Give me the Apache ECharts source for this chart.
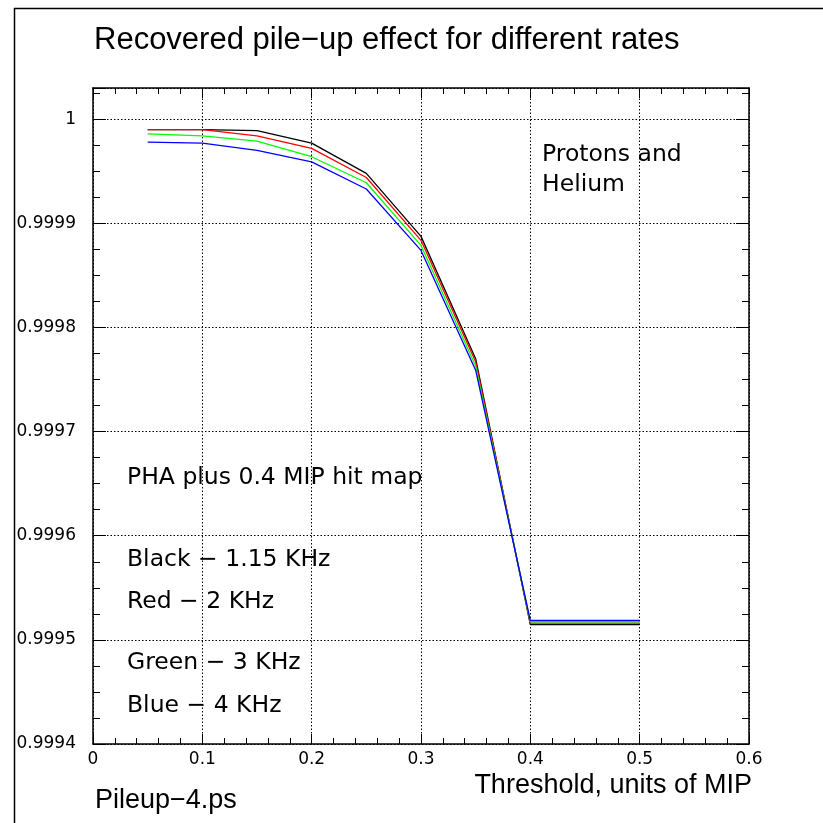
<!DOCTYPE html>
<html><head><meta charset="utf-8">
<script src="https://cdn.jsdelivr.net/npm/echarts@6/dist/echarts.min.js"></script>
<style>html,body{margin:0;padding:0;background:#fff}#c{width:823px;height:823px}</style>
</head><body><div id="c"></div>
<script>
const thresholds = [0.05, 0.1, 0.15, 0.2, 0.25, 0.3, 0.35, 0.4, 0.45, 0.5];
const black = [0.999990, 0.999990, 0.999989, 0.999977, 0.999948, 0.9998875, 0.999770, 0.9995147, 0.9995147, 0.9995147];
const red   = [0.999990, 0.999990, 0.999984, 0.999972, 0.999944, 0.9998837, 0.999767, 0.9995160, 0.9995160, 0.9995160];
const green = [0.999986, 0.999984, 0.999979, 0.999964, 0.999939, 0.9998788, 0.999763, 0.9995173, 0.9995173, 0.9995173];
const blue  = [0.999978, 0.999977, 0.999970, 0.999959, 0.999933, 0.9998740, 0.999759, 0.9995186, 0.9995186, 0.9995186];
const seriesNames = ['Black', 'Red', 'Green', 'Blue'];
const seriesColors = ['#000000', '#ff0000', '#00ff00', '#0000ff'];
const yTickLabels = ['0.9994', '0.9995', '0.9996', '0.9997', '0.9998', '0.9999', '1'];
const xTickLabels = ['0', '0.1', '0.2', '0.3', '0.4', '0.5', '0.6'];
const titleText = 'Recovered pile\u2212up effect for different rates';
const xTitle = 'Threshold, units of MIP';
const fileLabel = 'Pileup\u22124.ps';
const notes = ['Protons and', 'Helium', 'PHA plus 0.4 MIP hit map', 'Black \u2212 1.15 KHz', 'Red \u2212 2 KHz', 'Green \u2212 3 KHz', 'Blue \u2212 4 KHz'];

const allData = [black, red, green, blue];
const chart = echarts.init(document.getElementById('c'), null, {renderer: 'canvas'});
const YMIN = 0.9994, YMAX = 1.00003;
const geo = 'DejaVu Sans';
const helv = 'Liberation Sans';

function yLabel(v) {
  const k = Math.round((v - YMIN) / 0.0001);
  if (Math.abs(v - (YMIN + k * 0.0001)) > 1e-9 || k < 0 || k >= yTickLabels.length) return '';
  return yTickLabels[k];
}
function xLabel(v) {
  const k = Math.round(v / 0.1);
  if (Math.abs(v - k * 0.1) > 1e-9) return '';
  return xTickLabels[k] || '';
}
const lineStyleAxis = {color: '#000', width: 1.5};
const splitDotted = {show: true, lineStyle: {color: '#000', width: 1, type: [1.5, 2]}};

function txt(x, y, s, size, fam, align) {
  return {type: 'text', x: x, y: y, style: {text: s, font: size + 'px "' + fam + '"', fill: '#000', textAlign: align || 'left', textVerticalAlign: 'middle'}};
}

chart.setOption({
  animation: false,
  backgroundColor: '#fff',
  grid: {left: 93, top: 88, right: 74, bottom: 79, show: false},
  xAxis: [
    {type: 'value', min: 0, max: 0.6, interval: 0.1, position: 'bottom',
     axisLine: {show: true, onZero: false, lineStyle: lineStyleAxis},
     axisTick: {show: true, inside: true, length: 10, lineStyle: {color: '#000', width: 1}},
     minorTick: {show: true, splitNumber: 5, length: 6, lineStyle: {color: '#000', width: 1}},
     axisLabel: {show: true, margin: 7, formatter: xLabel, fontFamily: geo, fontSize: 17, color: '#000'},
     splitLine: splitDotted},
    {type: 'value', min: 0, max: 0.6, interval: 0.1, position: 'top',
     axisLine: {show: true, onZero: false, lineStyle: lineStyleAxis},
     axisTick: {show: true, inside: true, length: 10, lineStyle: {color: '#000', width: 1}},
     minorTick: {show: true, splitNumber: 5, length: 6, lineStyle: {color: '#000', width: 1}},
     axisLabel: {show: false}, splitLine: {show: false}}
  ],
  yAxis: [
    {type: 'value', min: YMIN, max: YMAX, interval: 0.0001, position: 'left',
     axisLine: {show: true, onZero: false, lineStyle: lineStyleAxis},
     axisTick: {show: true, inside: true, length: 13, lineStyle: {color: '#000', width: 1}},
     minorTick: {show: true, splitNumber: 4, length: 7, lineStyle: {color: '#000', width: 1}},
     axisLabel: {show: true, margin: 17, formatter: yLabel, fontFamily: geo, fontSize: 17, color: '#000', showMaxLabel: false},
     splitLine: {show: true, lineStyle: {color: '#000', width: 1, type: [1.5, 2]}}},
    {type: 'value', min: YMIN, max: YMAX, interval: 0.0001, position: 'right',
     axisLine: {show: true, onZero: false, lineStyle: lineStyleAxis},
     axisTick: {show: true, inside: true, length: 13, lineStyle: {color: '#000', width: 1}},
     minorTick: {show: true, splitNumber: 4, length: 7, lineStyle: {color: '#000', width: 1}},
     axisLabel: {show: false}, splitLine: {show: false}}
  ],
  series: seriesNames.map((n, i) => ({
    name: n, type: 'line', xAxisIndex: 0, yAxisIndex: 0,
    data: thresholds.map((x, j) => [x, allData[i][j]]),
    symbol: 'none', lineStyle: {color: seriesColors[i], width: 1.3}, z: 3 + i
  })),
  graphic: [
    {type: 'rect', left: 12, top: 6, shape: {x: 0, y: 0, width: 830, height: 830}, style: {fill: 'none', stroke: '#000', lineWidth: 1.5}, silent: true},
    txt(94, 40, titleText, 31, helv),
    txt(752, 786, xTitle, 27, helv, 'right'),
    txt(95, 801, fileLabel, 27, helv),
    txt(542, 155, notes[0], 23.5, geo),
    txt(542, 185, notes[1], 23.5, geo),
    txt(127, 478, notes[2], 23.5, geo),
    txt(127, 560, notes[3], 23.5, geo),
    txt(127, 602, notes[4], 23.5, geo),
    txt(127, 663, notes[5], 23.5, geo),
    txt(127, 706, notes[6], 23.5, geo)
  ]
});
</script></body></html>
